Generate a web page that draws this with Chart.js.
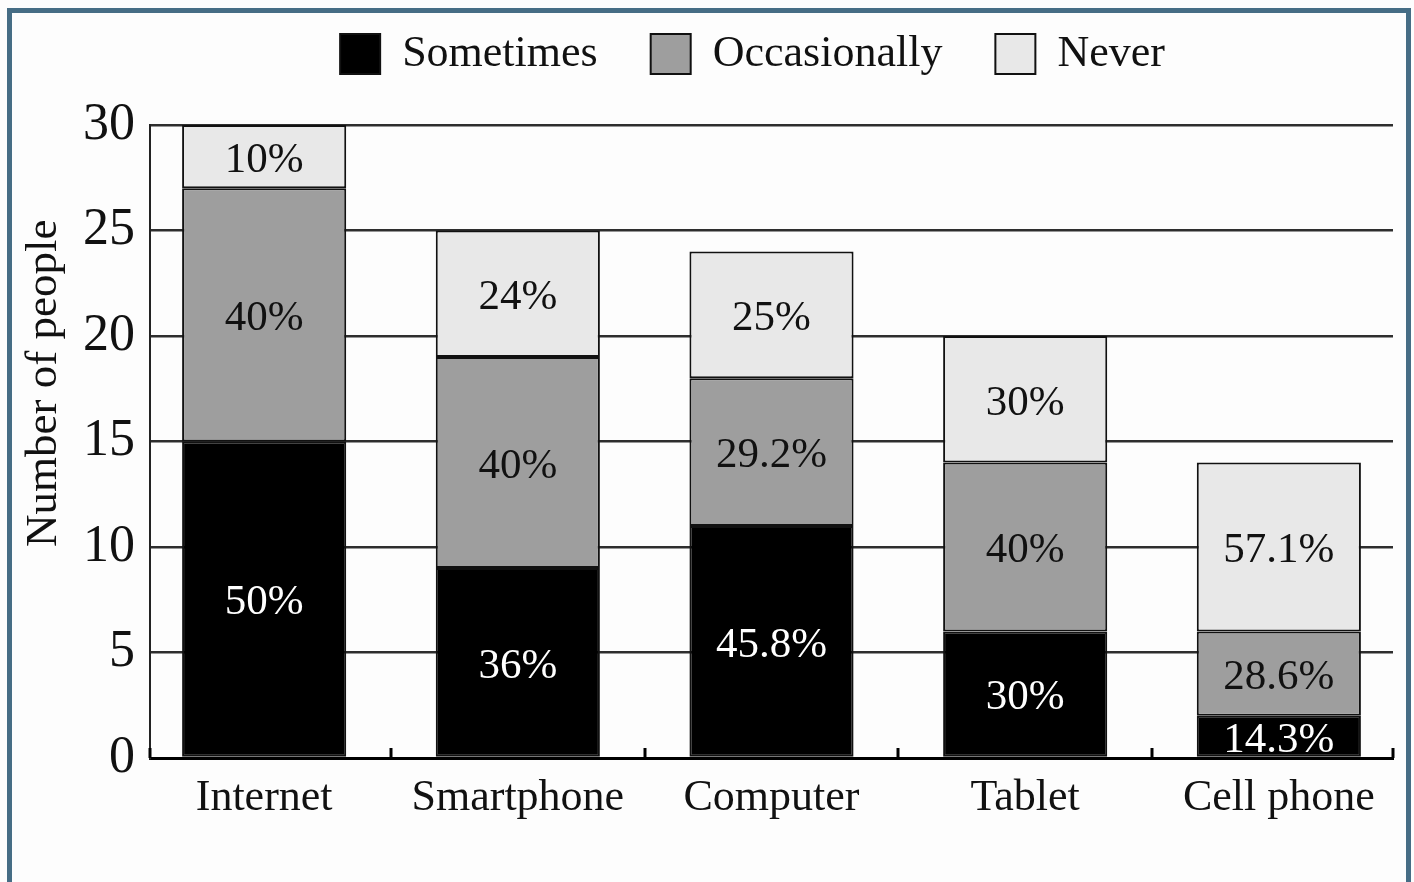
<!DOCTYPE html>
<html>
<head>
<meta charset="utf-8">
<script src="https://cdn.jsdelivr.net/npm/chart.js@4"></script>
<style>
  html, body { margin: 0; padding: 0; background: #fdfdfd; }
  #wrap { position: relative; width: 1414px; height: 882px; overflow: hidden; }
  #frame {
    position: absolute; left: 7px; top: 8px; width: 1404px; height: 900px;
    box-sizing: border-box; border: 5px solid #466d85; pointer-events: none;
  }
</style>
</head>
<body>
<div id="wrap">
  <canvas id="chart" width="1414" height="882"></canvas>
  <div id="frame"></div>
</div>
<script>
// categories and counts (people)
const categories   = ['Internet', 'Smartphone', 'Computer', 'Tablet', 'Cell phone'];
const sometimes    = [15, 9, 11, 6, 2];
const occasionally = [12, 10, 7, 8, 4];
const never        = [3, 6, 6, 6, 8];

// percent labels printed inside the bars
const sometimesPct    = ['50%', '36%', '45.8%', '30%', '14.3%'];
const occasionallyPct = ['40%', '40%', '29.2%', '40%', '28.6%'];
const neverPct        = ['10%', '24%', '25%', '30%', '57.1%'];

const yTicks = [0, 5, 10, 15, 20, 25, 30];

const serif = '"Liberation Serif", "DejaVu Serif", serif';

const toPoints = arr => arr.map((v, i) => ({ x: i, y: v }));

// labels in the middle of each segment
const barLabels = {
  id: 'barLabels',
  afterDatasetsDraw(chart) {
    const ctx = chart.ctx;
    ctx.save();
    ctx.font = '43px ' + serif;
    ctx.textAlign = 'center';
    ctx.textBaseline = 'middle';
    chart.data.datasets.forEach((ds, di) => {
      const meta = chart.getDatasetMeta(di);
      meta.data.forEach((bar, i) => {
        ctx.fillStyle = ds.labelColor;
        ctx.fillText(ds.pctLabels[i], bar.x, (bar.y + bar.base) / 2 + 4);
      });
    });
    ctx.restore();
  }
};

// small upward ticks on the x axis between categories + y title
const axisExtras = {
  id: 'axisExtras',
  afterDraw(chart) {
    const ctx = chart.ctx;
    const xs = chart.scales.x;
    const area = chart.chartArea;
    const marks = [xs.min];
    for (let i = 0; i < categories.length - 1; i++) marks.push(i + 0.5);
    marks.push(xs.max);
    ctx.save();
    ctx.strokeStyle = '#000';
    ctx.lineWidth = 3;
    marks.forEach(v => {
      const px = Math.round(xs.getPixelForValue(v));
      ctx.beginPath();
      ctx.moveTo(px, area.bottom);
      ctx.lineTo(px, area.bottom - 10);
      ctx.stroke();
    });
    // y axis title
    ctx.translate(44, area.top + (area.bottom - area.top) * 0.408);
    ctx.rotate(-Math.PI / 2);
    ctx.font = '45px ' + serif;
    ctx.fillStyle = '#111';
    ctx.textAlign = 'center';
    ctx.textBaseline = 'middle';
    ctx.fillText('Number of people', 0, 0);
    ctx.restore();
  },
  afterLayout(chart) {
    // move the legend up and to the right like the original
    const lg = chart.legend;
    lg.left += 56;
    lg.right += 56;
    lg.top -= 39;
    lg.bottom -= 39;
  }
};

new Chart(document.getElementById('chart'), {
  type: 'bar',
  data: {
    datasets: [
      {
        label: 'Sometimes',
        data: toPoints(sometimes),
        pctLabels: sometimesPct,
        labelColor: '#ffffff',
        backgroundColor: '#000000',
        borderColor: '#111111',
        borderWidth: 2
      },
      {
        label: 'Occasionally',
        data: toPoints(occasionally),
        pctLabels: occasionallyPct,
        labelColor: '#111111',
        backgroundColor: '#9e9e9e',
        borderColor: '#111111',
        borderWidth: 2
      },
      {
        label: 'Never',
        data: toPoints(never),
        pctLabels: neverPct,
        labelColor: '#111111',
        backgroundColor: '#e8e8e8',
        borderColor: '#111111',
        borderWidth: 2
      }
    ]
  },
  options: {
    responsive: false,
    animation: false,
    layout: { padding: { top: 18, right: 21, bottom: 0, left: 0 } },
    datasets: {
      bar: { barPercentage: 1, categoryPercentage: 0.647, borderSkipped: false }
    },
    scales: {
      x: {
        type: 'linear',
        stacked: true,
        offset: false,
        bounds: 'data',
        min: -0.45,
        max: 4.45,
        afterBuildTicks: s => { s.ticks = categories.map((c, i) => ({ value: i })); },
        afterFit: s => { s.height = 124; },
        grid: { display: false, offset: false },
        border: { display: true, color: '#000', width: 3 },
        ticks: {
          autoSkip: false,
          maxRotation: 0,
          padding: 6,
          color: '#111',
          font: { family: serif, size: 44 },
          callback: v => categories[v]
        }
      },
      y: {
        stacked: true,
        min: 0,
        max: 30,
        afterBuildTicks: s => { s.ticks = yTicks.map(v => ({ value: v })); },
        afterFit: s => { s.width = 150; },
        grid: { color: '#2e2e2e', lineWidth: 2.5, drawTicks: false },
        border: { display: true, color: '#222', width: 2 },
        ticks: {
          padding: 15,
          color: '#111',
          font: { family: serif, size: 52 }
        }
      }
    },
    plugins: {
      tooltip: { enabled: false },
      legend: {
        position: 'top',
        labels: {
          boxWidth: 40,
          boxHeight: 40,
          padding: 53,
          color: '#111',
          font: { family: serif, size: 44 }
        }
      }
    }
  },
  plugins: [barLabels, axisExtras]
});
</script>
</body>
</html>
